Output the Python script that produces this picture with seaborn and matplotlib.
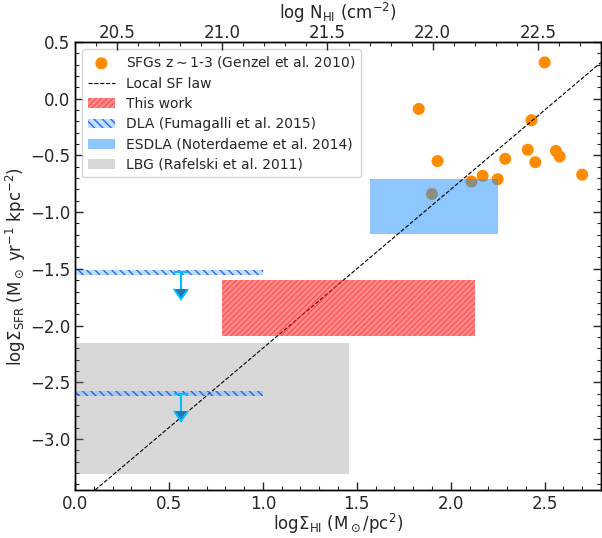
import numpy as np
import pandas as pd
import matplotlib
matplotlib.use("Agg")
import matplotlib.pyplot as plt
import seaborn as sns
from matplotlib.ticker import MultipleLocator

# ---------------- data ----------------
# SFGs z~1-3 (Genzel et al. 2010)
sfg_log_hi = [2.50, 1.83, 2.43, 1.93, 2.41, 2.56, 2.58, 2.29, 2.45, 2.70, 2.17, 2.25, 2.11, 1.90]
sfg_log_sfr = [0.32, -0.09, -0.19, -0.55, -0.45, -0.46, -0.51, -0.53, -0.56, -0.67, -0.68, -0.71, -0.73, -0.84]

# Local SF law (Kennicutt 1998)
sf_law_slope = 1.4
sf_law_intercept = -3.6

# boxes: [x0, x1], [y0, y1]
this_work_x = [0.78, 2.13]
this_work_y = [-2.09, -1.60]
esdla_x = [1.57, 2.25]
esdla_y = [-1.19, -0.71]
lbg_x = [0.0, 1.46]
lbg_y = [-3.31, -2.15]

# DLA upper limits (Fumagalli et al. 2015)
dla_x = [0.0, 1.0]
dla_limits = [-1.53, -2.60]
dla_arrow_x = [0.565, 0.565]
dla_arrow_len = 0.15
dla_halfwidth = 0.022

top_xlim = (20.30, 22.80)

# ---------------- style ----------------
sns.set_style("ticks")
plt.rcParams["font.family"] = ["DejaVu Sans"]
plt.rcParams["mathtext.fontset"] = "dejavusans"
plt.rcParams["hatch.linewidth"] = 1.0

fig = plt.figure(figsize=(6.02, 5.38), dpi=100)
ax = fig.add_axes([75 / 602, 48 / 538, 526 / 602, 448 / 538])

df = pd.DataFrame({"x": sfg_log_hi, "y": sfg_log_sfr})
sns.scatterplot(data=df, x="x", y="y", ax=ax, color="darkorange", s=75,
                edgecolor="none", linewidth=0, zorder=2,
                label=r"SFGs z$\sim$1-3 (Genzel et al. 2010)", legend=False)
sfg_handle = ax.collections[-1]

sf_line = ax.axline((0.0, sf_law_intercept), slope=sf_law_slope, color="black",
                    ls="--", lw=0.8, zorder=3, label="Local SF law")

lbg = ax.fill_between(lbg_x, lbg_y[0], lbg_y[1], facecolor="grey", alpha=0.3,
                      lw=0, zorder=1, label="LBG (Rafelski et al. 2011)")

tw = ax.fill_between(this_work_x, this_work_y[0], this_work_y[1],
                     facecolor=(1.0, 0.0, 0.0, 0.45), edgecolor=(1.0, 0.15, 0.15, 0.55),
                     hatch="//////", lw=0, zorder=4, label="This work")

esd = ax.fill_between(esdla_x, esdla_y[0], esdla_y[1], facecolor="dodgerblue",
                      alpha=0.5, lw=0, zorder=2.5,
                      label="ESDLA (Noterdaeme et al. 2014)")

dla = None
for lim in dla_limits:
    dla = ax.fill_between(dla_x, lim - dla_halfwidth, lim + dla_halfwidth,
                          facecolor=(0.45, 0.72, 1.0, 0.45),
                          edgecolor=(0.1, 0.3, 0.95, 0.85), hatch="\\\\\\\\",
                          lw=0, zorder=5, label="DLA (Fumagalli et al. 2015)")
ax.errorbar(dla_arrow_x, dla_limits, yerr=dla_arrow_len, uplims=True,
            fmt="none", ecolor="deepskyblue", elinewidth=1.5, capsize=5,
            capthick=1.5, zorder=6, label="_nolegend_")

ax.set_xlim(0, 2.8)
ax.set_ylim(-3.45, 0.5)
ax.xaxis.set_major_locator(MultipleLocator(0.5))
ax.xaxis.set_minor_locator(MultipleLocator(0.1))
ax.yaxis.set_major_locator(MultipleLocator(0.5))
ax.yaxis.set_minor_locator(MultipleLocator(0.1))
ax.tick_params(which="both", direction="in", labelsize=12, top=False, right=True)
ax.tick_params(which="major", length=6, width=1)
ax.tick_params(which="minor", length=3, width=0.8)
ax.set_xlabel(r"log$\Sigma_{\rm HI}$ (M$_\odot$/pc$^2$)", fontsize=12, labelpad=-0.5)
ax.set_ylabel(r"log$\Sigma_{\rm SFR}$ (M$_\odot$ yr$^{-1}$ kpc$^{-2}$)", fontsize=12,
              labelpad=1)

ax2 = ax.twiny()
ax2.set_xlim(*top_xlim)
ax2.xaxis.set_major_locator(MultipleLocator(0.5))
ax2.xaxis.set_minor_locator(MultipleLocator(0.1))
ax2.tick_params(which="both", direction="in", labelsize=12, pad=0.3)
ax2.tick_params(which="major", length=6, width=1)
ax2.tick_params(which="minor", length=3, width=0.8)
ax2.set_xlabel(r"log N$_{\rm HI}$ (cm$^{-2}$)", fontsize=12, labelpad=3)

for a in (ax, ax2):
    for s in a.spines.values():
        s.set_linewidth(1.0)
        s.set_color("black")

ax.legend(handles=[sfg_handle, sf_line, tw, dla, esd, lbg], loc="upper left",
          fontsize=10, frameon=True, framealpha=0.8, edgecolor="0.8",
          borderaxespad=0.5, labelspacing=0.45)

fig.savefig("out.png", dpi=100)
